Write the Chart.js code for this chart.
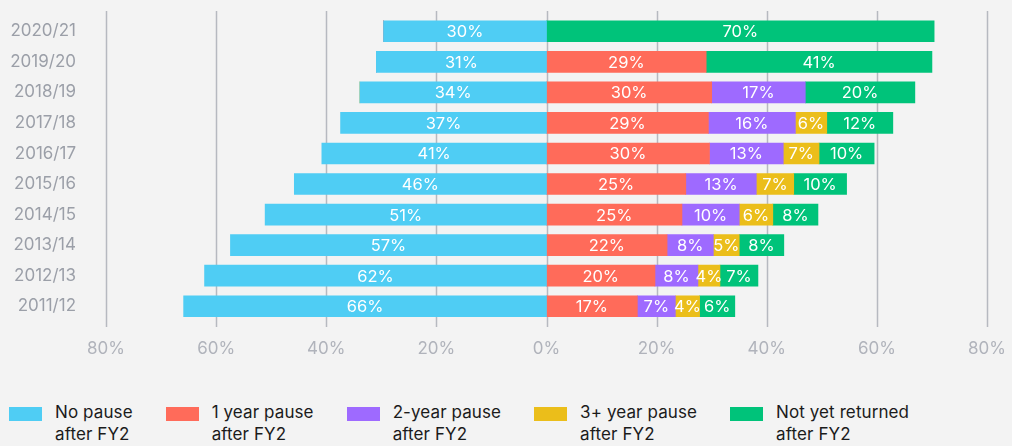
<!DOCTYPE html>
<html>
<head>
<meta charset="utf-8">
<script src="https://cdn.jsdelivr.net/npm/chart.js@4/dist/chart.umd.min.js"></script>
<style>
  html, body { margin: 0; padding: 0; background: #f3f3f3; }
  body { width: 1012px; height: 446px; position: relative; overflow: hidden; font-family: Inter, "Noto Sans", sans-serif; }
  #chart { position: absolute; left: 0; top: 0; }
  #legend { position: absolute; left: 9px; top: 401px; display: flex; align-items: flex-start; }
  .item { display: flex; align-items: flex-start; margin-right: 33px; }
  .box { width: 33px; height: 14px; margin-top: 6px; margin-right: 13px; }
  .txt { font-size: 17px; line-height: 22px; letter-spacing: 0.1px; color: #1b1b1b; }
</style>
</head>
<body>
<canvas id="chart" width="1012" height="370"></canvas>
<div id="legend"></div>
<script>
const categories = ['2020/21', '2019/20', '2018/19', '2017/18', '2016/17', '2015/16', '2014/15', '2013/14', '2012/13', '2011/12'];

// shares (label shows the rounded value)
const noPause   = [29.6, 30.9, 33.9, 37.4, 40.8, 45.8, 51.1, 57.4, 62.1, 65.9];
const oneYear   = [0, 29.0, 30.0, 29.4, 29.6, 25.3, 24.6, 21.9, 19.7, 16.5];
const twoYear   = [0, 0, 17.0, 15.8, 13.4, 12.8, 10.4, 8.4, 7.8, 6.9];
const threePlus = [0, 0, 0, 5.7, 6.5, 6.8, 6.1, 4.7, 4.0, 4.4];
const notYet    = [70.4, 41.0, 19.9, 12.0, 10.0, 9.6, 8.2, 8.1, 6.9, 6.4];

const seriesNames = [
  ['No pause', 'after FY2'],
  ['1 year pause', 'after FY2'],
  ['2-year pause', 'after FY2'],
  ['3+ year pause', 'after FY2'],
  ['Not yet returned', 'after FY2']
];
const colors = ['#4fcdf4', '#ff6b5a', '#9e6aff', '#ebbe1a', '#00c37a'];

const axisMax = 80;
const axisStep = 20;

// vertical grid lines, a bit taller than the plot area
const gridLines = {
  id: 'gridLines',
  beforeDatasetsDraw(chart) {
    const ctx = chart.ctx;
    const x = chart.scales.x;
    ctx.save();
    ctx.strokeStyle = '#b6b9c0';
    ctx.lineWidth = 1.5;
    x.ticks.forEach(t => {
      const px = Math.round(x.getPixelForValue(t.value)) + 0.5;
      ctx.beginPath();
      ctx.moveTo(px, 11);
      ctx.lineTo(px, 327);
      ctx.stroke();
    });
    ctx.restore();
  }
};

// white % labels in the middle of each segment
const segLabels = {
  id: 'segLabels',
  afterDatasetsDraw(chart) {
    const ctx = chart.ctx;
    ctx.save();
    ctx.fillStyle = '#ffffff';
    ctx.font = '400 16.5px Inter, "Noto Sans", sans-serif';
    ctx.textAlign = 'center';
    ctx.textBaseline = 'middle';
    chart.data.datasets.forEach((ds, i) => {
      const meta = chart.getDatasetMeta(i);
      meta.data.forEach((bar, j) => {
        const v = Math.abs(ds.data[j]);
        if (!v) return;
        const p = bar.getCenterPoint();
        ctx.fillText(Math.round(v) + '%', p.x, p.y + 1);
      });
    });
    ctx.restore();
  }
};

function noScalePadding(scale) {
  scale.paddingTop = 0;
  scale.paddingBottom = 0;
  scale.paddingLeft = 0;
  scale.paddingRight = 0;
}

const ctx = document.getElementById('chart').getContext('2d');
new Chart(ctx, {
  type: 'bar',
  data: {
    labels: categories,
    datasets: [
      { label: seriesNames[0].join(' '), data: noPause.map(v => -v), backgroundColor: colors[0] },
      { label: seriesNames[1].join(' '), data: oneYear, backgroundColor: colors[1] },
      { label: seriesNames[2].join(' '), data: twoYear, backgroundColor: colors[2] },
      { label: seriesNames[3].join(' '), data: threePlus, backgroundColor: colors[3] },
      { label: seriesNames[4].join(' '), data: notYet, backgroundColor: colors[4] }
    ]
  },
  options: {
    indexAxis: 'y',
    responsive: false,
    animation: false,
    devicePixelRatio: 1,
    barThickness: 21,
    borderSkipped: false,
    layout: { padding: { left: 0, right: 25, top: 16, bottom: 0 } },
    plugins: {
      legend: { display: false },
      tooltip: { enabled: false }
    },
    scales: {
      x: {
        stacked: true,
        min: -axisMax,
        max: axisMax,
        grid: { display: false },
        border: { display: false },
        ticks: {
          stepSize: axisStep,
          padding: 9,
          color: '#b0b3bb',
          font: { family: 'Inter', size: 17 },
          callback: v => Math.abs(v) + '%'
        },
        afterFit(scale) { scale.height = 48.5; noScalePadding(scale); }
      },
      y: {
        stacked: true,
        grid: { display: false, drawTicks: false },
        border: { display: false },
        ticks: {
          padding: 30,
          color: '#9b9fa8',
          font: { family: 'Inter', size: 17 }
        },
        afterFit(scale) { scale.width = 106; noScalePadding(scale); }
      }
    }
  },
  plugins: [gridLines, segLabels]
});

// legend with two-line labels
const legend = document.getElementById('legend');
seriesNames.forEach((lines, i) => {
  const item = document.createElement('div');
  item.className = 'item';
  const box = document.createElement('div');
  box.className = 'box';
  box.style.background = colors[i];
  const txt = document.createElement('div');
  txt.className = 'txt';
  txt.innerHTML = lines.join('<br>');
  item.appendChild(box);
  item.appendChild(txt);
  legend.appendChild(item);
});
</script>
</body>
</html>
